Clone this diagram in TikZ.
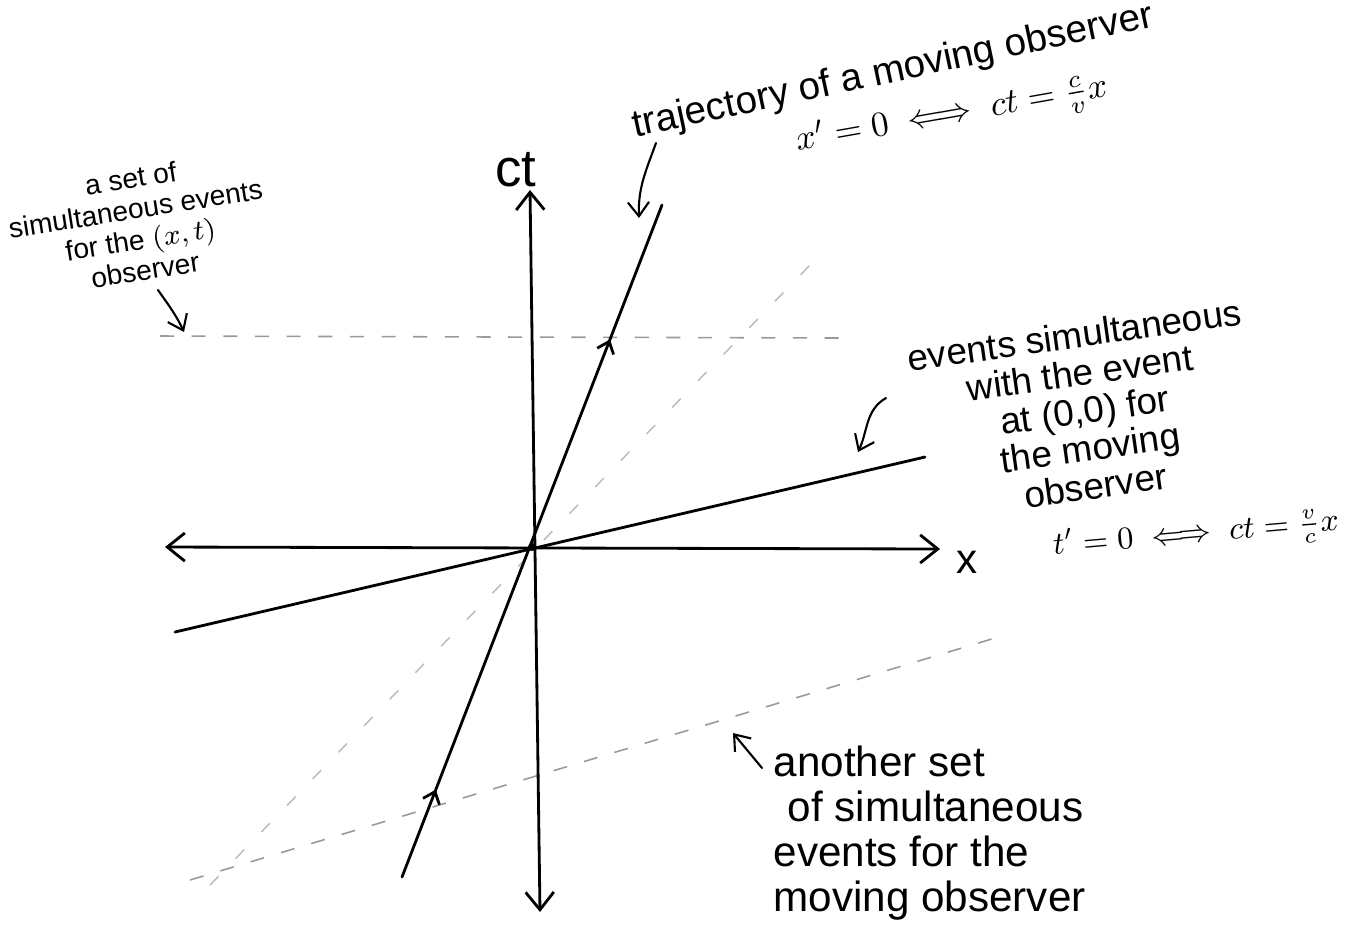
\documentclass[tikz,border=0pt]{standalone}
\usepackage{amsmath}
\usepackage{fontspec}
\setmainfont{Liberation Sans}
\usetikzlibrary{arrows.meta,decorations.markings}

\begin{document}
\begin{tikzpicture}[x=0.01cm,y=0.01cm,
  axis/.style={thick,{Straight Barb[length=5pt,width=8pt]}-{Straight Barb[length=5pt,width=8pt]}},
  worldline/.style={thick,line cap=round},
  simul/.style={gray!80,line width=0.45pt,dash pattern=on 4pt off 5pt},
  cone/.style={gray!55,line width=0.4pt,dash pattern=on 3.5pt off 7pt},
  pointer/.style={semithick,line cap=round,-{Straight Barb[length=4pt,width=6pt]}},
  note/.style={align=center,inner sep=0pt}]
\useasboundingbox (0,-932) rectangle (1348,0);

\coordinate (O) at (532,-547);
\coordinate (XL) at (165,-547);
\coordinate (XR) at (940,-549);
\coordinate (CB) at (540,-912);
\coordinate (CT) at (530,-190);

\coordinate (TB) at (402,-877);
\coordinate (TT) at (662,-205);
\coordinate (SL) at (175,-632);
\coordinate (SR) at (925,-457);

\coordinate (LB) at (210,-885);
\coordinate (LT) at (812,-263);
\coordinate (HL) at (160,-336);
\coordinate (HR) at (843,-338);
\coordinate (DL) at (190,-880);
\coordinate (DR) at (995,-638);

% dashed lines first
\draw[cone] (LB)--(LT);
\draw[simul] (HL)--(HR);
\draw[simul] (DL)--(DR);

\draw[axis] (XL)--(XR);
\draw[axis] (CB)--(CT);

\draw[worldline,postaction={decorate},decoration={markings,
  mark=at position 0.13 with {\arrow{Straight Barb[length=3pt,width=5pt]}},
  mark=at position 0.80 with {\arrow{Straight Barb[length=3pt,width=5pt]}}}] (TB)--(TT);
\draw[worldline] (SL)--(SR);

\fill (O) circle (4);

\node (ctlab) at (516,-170) {\fontsize{15}{15}\selectfont ct};
\node (xlab) at (967,-562) {\fontsize{12}{12}\selectfont x};

% labels
\node[note,rotate=12,font=\fontsize{11}{12}\selectfont] (traj) at (893,-72) {trajectory of a moving observer};
\node[note,rotate=10,font=\fontsize{10}{11}\selectfont] (trajeq) at (952,-116) {$x'=0 \iff ct=\frac{c}{v}x$};

\node[note,rotate=9,font=\fontsize{8}{8.8}\selectfont] (restlab) at (138,-224)
  {a set of\\simultaneous events\\for the $(x,t)$\\observer};

\node[note,rotate=8,font=\fontsize{10.5}{10.8}\selectfont] (movelab) at (1085,-410)
  {events simultaneous\\with the event\\at (0,0) for\\the moving\\observer};
\node[note,rotate=5,font=\fontsize{9}{10}\selectfont] (moveeq) at (1196,-535) {$t'=0 \iff ct=\frac{v}{c}x$};

\node[note,align=left,anchor=north west,font=\fontsize{12}{12.8}\selectfont] (otherlab) at (773,-745)
  {another set\\\hspace*{4pt}of simultaneous\\events for the\\moving observer};

% pointers
\coordinate (p1) at (656,-143);
\coordinate (q1) at (639,-218);
\draw[pointer] (p1) to[out=250,in=92] (q1);

\coordinate (p2) at (158,-290);
\coordinate (q2) at (184,-332);
\draw[pointer] (p2) to[out=-55,in=115] (q2);

\coordinate (p3) at (886,-398);
\coordinate (q3) at (858,-452);
\draw[pointer] (p3) to[out=210,in=65] (q3);

\coordinate (p4) at (762,-768);
\coordinate (q4) at (733,-733);
\draw[pointer] (p4)--(q4);

\end{tikzpicture}
\end{document}
